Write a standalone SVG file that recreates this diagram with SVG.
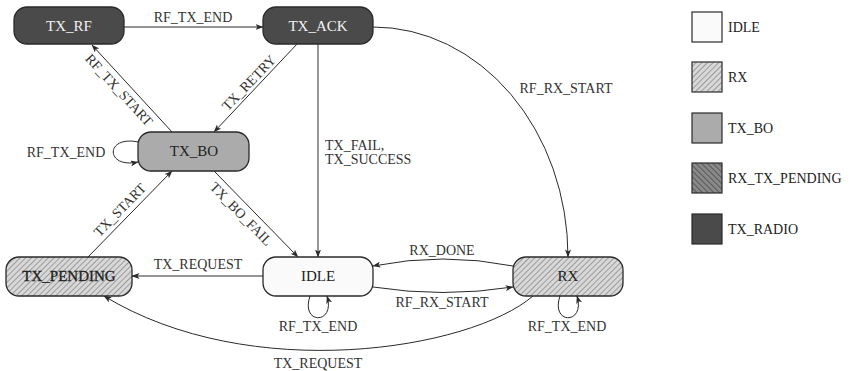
<svg xmlns="http://www.w3.org/2000/svg" width="855" height="371" viewBox="0 0 855 371" font-family="'Liberation Serif', 'DejaVu Serif', serif">
  <defs>
    <pattern id="hatchLight" patternUnits="userSpaceOnUse" width="4" height="4" patternTransform="rotate(45)">
      <rect width="4" height="4" fill="#d8d8d8"/>
      <line x1="0.5" y1="0" x2="0.5" y2="4" stroke="#9c9c9c" stroke-width="1"/>
    </pattern>
    <pattern id="hatchDark" patternUnits="userSpaceOnUse" width="4" height="4" patternTransform="rotate(-45)">
      <rect width="4" height="4" fill="#8a8a8a"/>
      <line x1="0.5" y1="0" x2="0.5" y2="4" stroke="#5a5a5a" stroke-width="1.2"/>
    </pattern>
    <marker id="arrow" viewBox="0 0 8 6" refX="7.5" refY="3" markerWidth="8" markerHeight="6" markerUnits="userSpaceOnUse" orient="auto">
      <path d="M0,0 L8,3 L0,6 L2,3 z" fill="#2a2a2a"/>
    </marker>
  </defs>
  <style>
    text { font-family: "Liberation Serif", "DejaVu Serif", serif; dominant-baseline: central; }
    .node rect { stroke: #2a2a2a; stroke-width: 1.3; }
    .radio rect { fill: #4a4a4a; }
    .nt { font-size: 15px; text-anchor: middle; fill: #222; }
    .lt { fill: #f2f2f2; }
    .edge { fill: none; stroke: #2a2a2a; stroke-width: 1; marker-end: url(#arrow); }
    .lbl { font-size: 14px; fill: #333; text-anchor: middle; }
    .left { text-anchor: start; }
    .leg rect { stroke: #2a2a2a; stroke-width: 1.2; }
    .leg text { font-size: 14px; fill: #222; }
  </style>

  <!-- connectors -->
  <g id="edges">
    <path class="edge" d="M124,27 L263,27"/>
    <path class="edge" d="M172,132 L92,45"/>
    <path class="edge" d="M298,43 L214,132"/>
    <path class="edge" d="M318,43 L318,257"/>
    <path class="edge" d="M373,27 A195,230 0 0 1 568,257"/>
    <path class="edge" d="M88,257 L172,171"/>
    <path class="edge" d="M214,171 L298,257"/>
    <path class="edge" d="M263,276 L132,276"/>
    <path class="edge" d="M513,266 Q443,252 373,266"/>
    <path class="edge" d="M373,287 Q443,298 513,287"/>
    <path class="edge" d="M533,296 C470,350 250,385 104,296"/>
    <path class="edge" d="M138,142 C105,135 105,169 138,162"/>
    <path class="edge" d="M310,296 C300,325 336,325 327,296"/>
    <path class="edge" d="M560,296 C550,325 586,325 577,296"/>

    <text class="lbl" x="193" y="17">RF_TX_END</text>
    <text class="lbl" transform="translate(119,90) rotate(47.4)">RF_TX_START</text>
    <text class="lbl" transform="translate(249,83) rotate(-46)">TX_RETRY</text>
    <text class="lbl" transform="translate(120,210) rotate(-45.7)">TX_START</text>
    <text class="lbl" transform="translate(241,214) rotate(45.7)">TX_BO_FAIL</text>
    <text class="lbl left" x="325" y="145">TX_FAIL,</text>
    <text class="lbl left" x="325" y="159">TX_SUCCESS</text>
    <text class="lbl" x="566" y="88">RF_RX_START</text>
    <text class="lbl" x="198" y="264">TX_REQUEST</text>
    <text class="lbl" x="442" y="250">RX_DONE</text>
    <text class="lbl" x="442" y="302">RF_RX_START</text>
    <text class="lbl" x="318" y="363">TX_REQUEST</text>
    <text class="lbl" x="66" y="152">RF_TX_END</text>
    <text class="lbl" x="318" y="326">RF_TX_END</text>
    <text class="lbl" x="567" y="326">RF_TX_END</text>
  </g>

  <!-- states -->
  <g id="TX_RF" class="node radio">
    <rect x="14" y="7" width="110" height="37" rx="13"/>
    <text class="nt lt" x="69" y="26">TX_RF</text>
  </g>
  <g id="TX_ACK" class="node radio">
    <rect x="263" y="7" width="110" height="37" rx="13"/>
    <text class="nt lt" x="318" y="26">TX_ACK</text>
  </g>
  <g id="TX_BO" class="node">
    <rect x="138" y="132" width="111" height="39" rx="13" fill="#ababab"/>
    <text class="nt" x="194" y="151">TX_BO</text>
  </g>
  <g id="TX_PENDING" class="node">
    <rect x="6" y="257" width="126" height="39" rx="13" fill="url(#hatchLight)"/>
    <text class="nt" x="69" y="276" stroke="#222" stroke-width="0.3">TX_PENDING</text>
  </g>
  <g id="IDLE" class="node">
    <rect x="263" y="257" width="110" height="39" rx="13" fill="#fafafa"/>
    <text class="nt" x="318" y="276">IDLE</text>
  </g>
  <g id="RX" class="node">
    <rect x="513" y="257" width="110" height="39" rx="13" fill="url(#hatchLight)"/>
    <text class="nt" x="568" y="276">RX</text>
  </g>

  <!-- legend -->
  <g id="legend" class="leg">
    <rect x="692" y="12" width="30" height="30" fill="#fafafa"/>
    <text x="728" y="27">IDLE</text>
    <rect x="692" y="62" width="30" height="30" fill="url(#hatchLight)"/>
    <text x="728" y="77">RX</text>
    <rect x="692" y="113" width="30" height="30" fill="#ababab"/>
    <text x="728" y="128">TX_BO</text>
    <rect x="692" y="163" width="30" height="30" fill="url(#hatchDark)"/>
    <text x="728" y="178">RX_TX_PENDING</text>
    <rect x="692" y="214" width="30" height="30" fill="#4a4a4a"/>
    <text x="728" y="229">TX_RADIO</text>
  </g>
</svg>
